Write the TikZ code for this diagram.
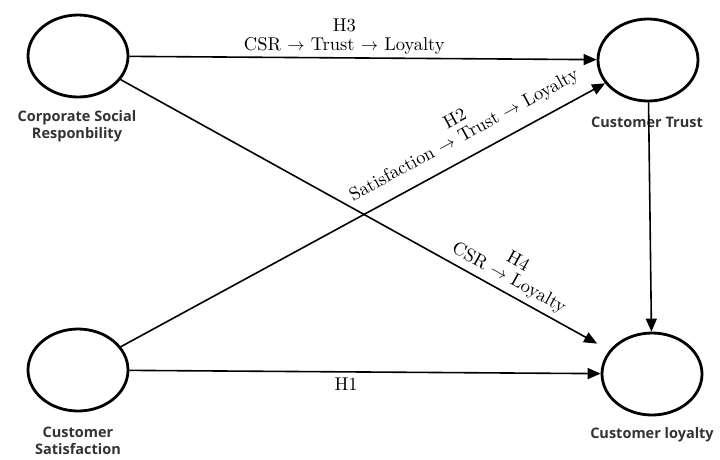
\documentclass[tikz,border=0pt]{standalone}
\usepackage{fontspec}
\setsansfont{Open Sans}
\newfontfamily\hypfont{lmroman10-regular}[Extension=.otf]
\usetikzlibrary{shapes.geometric,arrows.meta}
\definecolor{lab}{HTML}{333333}
\tikzset{
  construct/.style={ellipse,draw=black,line width=2.8pt,minimum width=100pt,minimum height=82pt,inner sep=0pt},
  cname/.style={font=\sffamily\bfseries\fontsize{14.5}{17}\selectfont,text=lab,align=center},
  path/.style={line width=1.6pt,-{Triangle[length=13pt,width=11pt]}},
  hyp/.style={font=\hypfont\fontsize{18.5}{18.5}\selectfont,align=center,inner sep=2pt}
}
\begin{document}
\begin{tikzpicture}[x=1pt,y=-1pt]
\useasboundingbox (0,0) rectangle (720,459);
\node[construct] (csr) at (78,56) {};
\node[construct] (tru) at (648,60) {};
\node[construct] (sat) at (78,370) {};
\node[construct] (loy) at (652,374) {};
\node[cname] (csrl) at (77,126) {Corporate Social\\Responbility};
\node[cname] (trul) at (647,122) {Customer Trust};
\node[cname] (satl) at (78,441) {Customer\\Satisfaction};
\node[cname] (loyl) at (652,435) {Customer loyalty};
\draw[path] (csr) -- (tru) node[hyp,pos=0.46,above=1pt] (h3) {H3\\CSR $\rightarrow$ Trust $\rightarrow$ Loyalty};
\draw[path] (sat) -- (tru) node[hyp,pos=0.73,sloped,above=10pt] (h2) {H2\\Satisfaction $\rightarrow$ Trust $\rightarrow$ Loyalty};
\draw[path,shorten >=14pt] (csr) -- (loy) node[hyp,pos=0.78,sloped,above=3pt] (h4) {H4\\CSR $\rightarrow$ Loyalty};
\draw[path] (sat) -- (loy) node[hyp,pos=0.46,below=3pt] (h1) {H1};
\draw[path] (tru) -- (loy);
\end{tikzpicture}
\end{document}
